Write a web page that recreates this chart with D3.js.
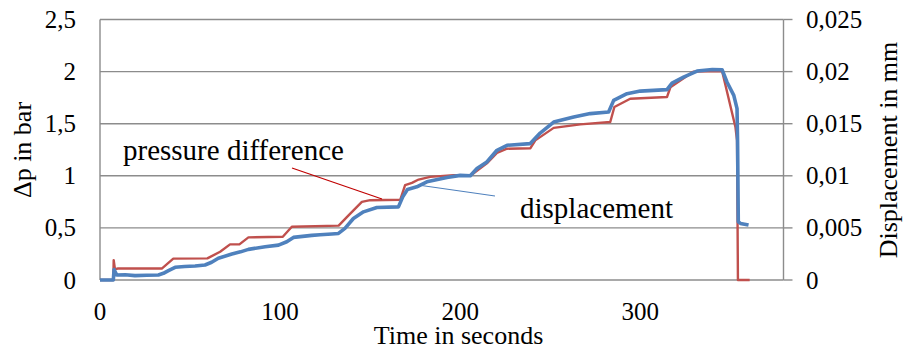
<!DOCTYPE html>
<html>
<head>
<meta charset="utf-8">
<script src="https://cdn.jsdelivr.net/npm/d3@7"></script>
</head>
<body style="margin:0">
<script>
// pressure difference (bar) over time (s)
let pressureTime = [0, 7.4, 7.6, 8.3, 10, 34.3, 40.7, 59.6, 66.7, 72.2, 77.4, 82.4, 101.5, 106.5, 132.5, 138, 145.4, 150, 166.7, 169.4, 173.2, 176.9, 183.3, 196.3, 205.6, 214.8, 220.4, 226, 239, 241.7, 251.9, 266.7, 283.3, 285.6, 294.4, 314.8, 316.7, 329.6, 345.4, 352.8, 353.7, 354.2, 360.7];
let pressure = [0, 0, 0.19, 0.105, 0.11, 0.11, 0.205, 0.208, 0.271, 0.342, 0.342, 0.409, 0.415, 0.511, 0.522, 0.62, 0.75, 0.766, 0.77, 0.91, 0.932, 0.964, 0.99, 1.006, 1.0, 1.12, 1.22, 1.26, 1.265, 1.34, 1.46, 1.494, 1.516, 1.66, 1.74, 1.756, 1.85, 2.0, 2.005, 1.469, 1.341, 0, 0];

// displacement (mm) over time (s)
let dispTime = [0, 7.4, 7.8, 9.3, 14, 19.4, 26, 32.4, 35.2, 38, 41.7, 47, 52.8, 58.3, 62, 65.7, 73.2, 78, 82.4, 91.7, 99.1, 103.7, 107.4, 117.6, 122.2, 128.7, 132.4, 136, 140.7, 146.3, 153.7, 165.7, 168.1, 170.7, 175.9, 181.5, 192.6, 200, 205.6, 209.3, 214.8, 220.4, 226, 238.9, 244.4, 251.9, 263, 272.2, 282.4, 285.2, 292.6, 300, 314.8, 317.6, 324, 331.5, 340, 345.4, 348.1, 351.9, 353.7, 354, 354.4, 355.6, 360.1];
let displacement = [0, 0, 0.0010, 0.00048, 0.0005, 0.00042, 0.00045, 0.00048, 0.00064, 0.0009, 0.00122, 0.0013, 0.00134, 0.00144, 0.0017, 0.00208, 0.00249, 0.0027, 0.00294, 0.00319, 0.00335, 0.00367, 0.00409, 0.00428, 0.00435, 0.00442, 0.00447, 0.00495, 0.0059, 0.00654, 0.00696, 0.00702, 0.00798, 0.00869, 0.00894, 0.00942, 0.00983, 0.01004, 0.01, 0.0107, 0.01133, 0.01245, 0.01293, 0.01309, 0.0141, 0.01516, 0.01565, 0.01597, 0.01612, 0.01724, 0.01788, 0.01813, 0.01827, 0.0189, 0.01947, 0.02005, 0.0202, 0.02018, 0.019, 0.01772, 0.01645, 0.01325, 0.00559, 0.00543, 0.00527];

let xTicks = [0, 100, 200, 300];
let leftTicks = [0, 0.5, 1, 1.5, 2, 2.5];
let leftLabels = ["0", "0,5", "1", "1,5", "2", "2,5"];
let rightTicks = [0, 0.005, 0.01, 0.015, 0.02, 0.025];
let rightLabels = ["0", "0,005", "0,01", "0,015", "0,02", "0,025"];

let width = 904;
let height = 350;
let plot = { left: 100, right: 783.5, top: 19.5, bottom: 280 };
let fontName = "'Liberation Serif', 'Times New Roman', Tinos";
let gray = "#8c8c8c";

let svg = d3.select("body")
  .append("svg")
  .attr("width", width)
  .attr("height", height);

let x = d3.scaleLinear().domain([0, 379.5]).range([plot.left, plot.right]);
let yLeft = d3.scaleLinear().domain([0, 2.5]).range([plot.bottom, plot.top]);
let yRight = d3.scaleLinear().domain([0, 0.025]).range([plot.bottom, plot.top]);

// serif text helper, inline style so nothing overrides it
function label(sel, size) {
  return sel
    .attr("font-family", fontName)
    .style("font-family", fontName, "important")
    .style("font-size", size + "px", "important")
    .attr("fill", "#000");
}

// gridlines
let grid = svg.append("g")
  .attr("stroke", gray)
  .attr("stroke-width", 1.4);
grid.selectAll("line.h")
  .data(leftTicks)
  .enter()
  .append("line")
  .attr("class", "h")
  .attr("x1", plot.left)
  .attr("x2", plot.right)
  .attr("y1", d => yLeft(d))
  .attr("y2", d => yLeft(d));

// left and right axis lines
grid.append("line")
  .attr("x1", plot.left).attr("x2", plot.left)
  .attr("y1", plot.top).attr("y2", plot.bottom);
grid.append("line")
  .attr("x1", plot.right).attr("x2", plot.right)
  .attr("y1", plot.top).attr("y2", plot.bottom);

// right axis tick marks
grid.selectAll("line.rt")
  .data(rightTicks)
  .enter()
  .append("line")
  .attr("class", "rt")
  .attr("x1", plot.right)
  .attr("x2", plot.right + 9)
  .attr("y1", d => yRight(d))
  .attr("y2", d => yRight(d));

// tick labels
label(svg.selectAll("text.lt")
  .data(leftTicks)
  .enter()
  .append("text")
  .attr("class", "lt")
  .attr("x", 76)
  .attr("y", d => yLeft(d))
  .attr("dy", "0.34em")
  .attr("text-anchor", "end"), 25)
  .text((d, i) => leftLabels[i]);

label(svg.selectAll("text.rtl")
  .data(rightTicks)
  .enter()
  .append("text")
  .attr("class", "rtl")
  .attr("x", 806)
  .attr("y", d => yRight(d))
  .attr("dy", "0.34em"), 25)
  .text((d, i) => rightLabels[i]);

label(svg.selectAll("text.xt")
  .data(xTicks)
  .enter()
  .append("text")
  .attr("class", "xt")
  .attr("x", d => x(d))
  .attr("y", 320)
  .attr("text-anchor", "middle"), 25)
  .text(d => d);

// axis titles
label(svg.append("text")
  .attr("x", 458.5)
  .attr("y", 344)
  .attr("text-anchor", "middle"), 26)
  .text("Time in seconds");

label(svg.append("text")
  .attr("transform", "translate(31,150) rotate(-90)")
  .attr("text-anchor", "middle"), 26)
  .text("Δp in bar");

label(svg.append("text")
  .attr("transform", "translate(897,150) rotate(-90)")
  .attr("text-anchor", "middle"), 26)
  .text("Displacement in mm");

// series
let pressureLine = d3.line()
  .x(d => x(d[0]))
  .y(d => yLeft(d[1]));
let dispLine = d3.line()
  .x(d => x(d[0]))
  .y(d => yRight(d[1]));

svg.append("path")
  .datum(pressureTime.map((t, i) => [t, pressure[i]]))
  .attr("d", pressureLine)
  .attr("fill", "none")
  .attr("stroke", "#c0504d")
  .attr("stroke-width", 2.4)
  .attr("stroke-linejoin", "round");

svg.append("path")
  .datum(dispTime.map((t, i) => [t, displacement[i]]))
  .attr("d", dispLine)
  .attr("fill", "none")
  .attr("stroke", "#4f81bd")
  .attr("stroke-width", 3.6)
  .attr("stroke-linejoin", "round");

// labels with leader lines
svg.append("line")
  .attr("x1", 292).attr("y1", 168)
  .attr("x2", 382).attr("y2", 199)
  .attr("stroke", "#c00000")
  .attr("stroke-width", 1.2);
label(svg.append("text")
  .attr("x", 123)
  .attr("y", 160), 29)
  .text("pressure difference");

svg.append("line")
  .attr("x1", 418).attr("y1", 185)
  .attr("x2", 495).attr("y2", 196)
  .attr("stroke", "#4f81bd")
  .attr("stroke-width", 1.2);
label(svg.append("text")
  .attr("x", 520)
  .attr("y", 218), 29)
  .text("displacement");
</script>
</body>
</html>
